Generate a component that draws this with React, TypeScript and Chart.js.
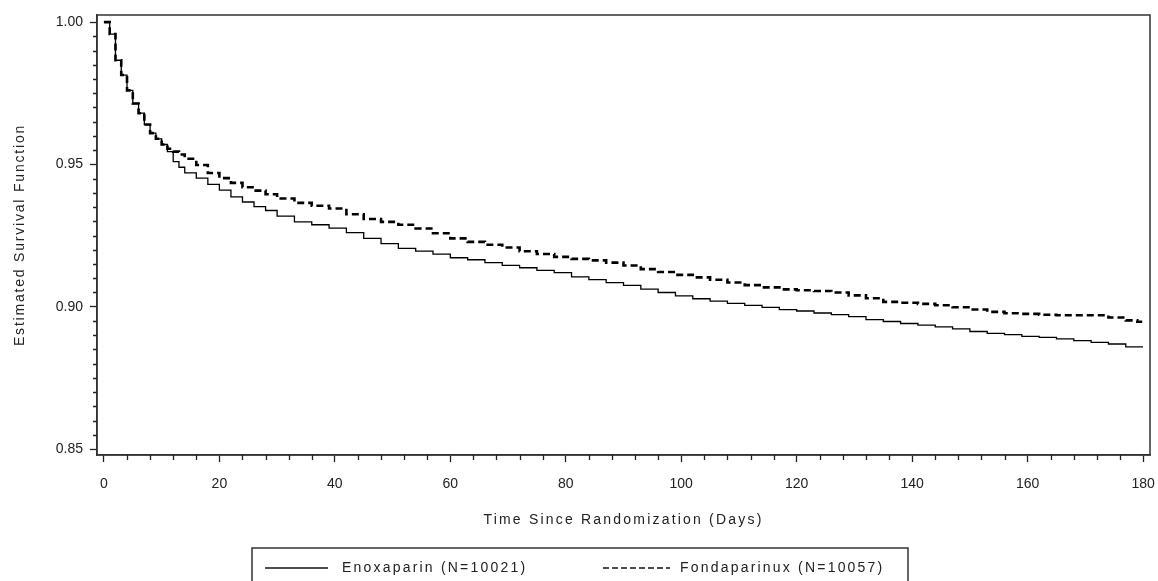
import React, { useEffect, useRef } from "react";
import { Chart, registerables } from "chart.js";

Chart.register(...registerables);

// ---- Data ----
const days = [
  0, 1, 2, 3, 4, 5, 6, 7, 8, 9, 10, 11, 12, 13, 14, 16, 18, 20, 22, 24, 26, 28, 30,
  33, 36, 39, 42, 45, 48, 51, 54, 57, 60, 63, 66, 69, 72, 75, 78, 81, 84, 87, 90,
  93, 96, 99, 102, 105, 108, 111, 114, 117, 120, 123, 126, 129, 132, 135, 138, 141,
  144, 147, 150, 153, 156, 159, 162, 165, 168, 171, 174, 177, 179, 180,
];

const enoxaparin = [
  1.0, 0.9958, 0.9866, 0.9814, 0.976, 0.9714, 0.968, 0.964, 0.961, 0.959, 0.957,
  0.9545, 0.951, 0.949, 0.947, 0.9452, 0.943, 0.941, 0.9386, 0.9368, 0.9352, 0.9338,
  0.9318, 0.9298, 0.9288, 0.9276, 0.926, 0.924, 0.9222, 0.9205, 0.9195, 0.9185,
  0.9172, 0.9165, 0.9155, 0.9145, 0.9137, 0.9128, 0.912, 0.9105, 0.9095, 0.9085,
  0.9075, 0.9062, 0.905, 0.9038, 0.9028, 0.902, 0.9012, 0.9005, 0.8998, 0.899,
  0.8985, 0.8978, 0.8972, 0.8965, 0.8955, 0.8948, 0.8941, 0.8935, 0.8929, 0.8922,
  0.8913, 0.8906, 0.8902, 0.8896, 0.8892, 0.8887, 0.8881, 0.8875, 0.8869, 0.8859,
  0.8859, 0.8859,
];

const fondaparinux = [
  1.0, 0.9958, 0.9866, 0.9814, 0.976, 0.9714, 0.968, 0.964, 0.961, 0.959, 0.957,
  0.9555, 0.9545, 0.9535, 0.952, 0.9498, 0.947, 0.9452, 0.9435, 0.942, 0.9408,
  0.9395, 0.938, 0.9365, 0.9355, 0.9345, 0.9325, 0.9308, 0.9298, 0.9288, 0.9275,
  0.9258, 0.924, 0.9228, 0.9218, 0.9208, 0.9195, 0.9185, 0.9175, 0.9168, 0.9163,
  0.9155, 0.9145, 0.9132, 0.9122, 0.9112, 0.9103, 0.9095, 0.9085, 0.9076, 0.9068,
  0.9061, 0.9058, 0.9055, 0.905, 0.904, 0.903, 0.9017, 0.9014, 0.901, 0.9005,
  0.8998, 0.899, 0.8982, 0.8977, 0.8975, 0.8972, 0.897, 0.897, 0.897, 0.8962,
  0.8952, 0.8947, 0.8947,
];

const seriesLabels = ["Enoxaparin (N=10021)", "Fondaparinux (N=10057)"];
const xTickValues = [0, 20, 40, 60, 80, 100, 120, 140, 160, 180];
const yTickValues = [0.85, 0.9, 0.95, 1.0];
const xTitle = "Time Since Randomization (Days)";
const yTitle = "Estimated Survival Function";

const FONT = "'Liberation Sans', Arial, Helvetica, sans-serif";
const TEXT = "#222";

const spacingFor: Record<string, string> = { x: "2.2px", y: "1.8px" };

const decorPlugin = {
  id: "decor",
  beforeDraw(chart: any) {
    ["x", "y"].forEach((id) => {
      const s: any = chart.scales[id];
      if (s && !s.__ls) {
        const orig = s.drawTitle.bind(s);
        s.drawTitle = () => {
          const c: any = s.ctx;
          const prev = c.letterSpacing;
          c.letterSpacing = spacingFor[id];
          orig();
          c.letterSpacing = prev || "0px";
        };
        s.__ls = true;
      }
    });
  },
  afterDraw(chart: any) {
    const { ctx, chartArea: a, scales } = chart;
    const x = scales.x;
    const y = scales.y;
    ctx.save();
    // frame
    ctx.strokeStyle = "#333";
    ctx.lineWidth = 1.5;
    ctx.strokeRect(a.left, a.top, a.right - a.left, a.bottom - a.top);
    // minor ticks
    ctx.lineWidth = 1.3;
    ctx.strokeStyle = "#222";
    ctx.beginPath();
    for (let v = 0; v <= 180; v += 4) {
      if (v % 20 === 0) continue;
      const px = Math.round(x.getPixelForValue(v)) + 0.5;
      ctx.moveTo(px, a.bottom);
      ctx.lineTo(px, a.bottom + 5);
    }
    for (let k = 0; k <= 30; k++) {
      if (k % 10 === 0) continue;
      const py = Math.round(y.getPixelForValue(0.85 + k * 0.005)) + 0.5;
      ctx.moveTo(a.left - 4, py);
      ctx.lineTo(a.left, py);
    }
    ctx.stroke();

    // legend box
    const ly = 568;
    ctx.strokeStyle = "#333";
    ctx.lineWidth = 1.5;
    ctx.strokeRect(252, 548, 656, 60);
    ctx.font = `14px ${FONT}`;
    (ctx as any).letterSpacing = "2.2px";
    ctx.fillStyle = TEXT;
    ctx.textBaseline = "middle";
    ctx.textAlign = "left";
    // item 1
    ctx.strokeStyle = "#111";
    ctx.lineWidth = 1.3;
    ctx.beginPath();
    ctx.moveTo(265, ly);
    ctx.lineTo(328, ly);
    ctx.stroke();
    ctx.fillText(seriesLabels[0], 342, ly);
    // item 2
    ctx.setLineDash([6, 3]);
    ctx.beginPath();
    ctx.moveTo(603, ly);
    ctx.lineTo(670, ly);
    ctx.stroke();
    ctx.setLineDash([]);
    ctx.fillText(seriesLabels[1], 680, ly);
    (ctx as any).letterSpacing = "0px";
    ctx.restore();
  },
};

export default function App() {
  const ref = useRef<HTMLCanvasElement | null>(null);

  useEffect(() => {
    document.body.style.margin = "0";
    const canvas = ref.current;
    if (!canvas) return;
    Chart.defaults.font.family = FONT;
    Chart.defaults.color = TEXT;

    const chart = new Chart(canvas, {
      type: "line",
      data: {
        datasets: [
          {
            label: seriesLabels[0],
            data: days.map((d, i) => ({ x: d, y: enoxaparin[i] })),
            borderColor: "#000",
            borderWidth: 1.3,
            pointRadius: 0,
            stepped: true,
            fill: false,
          },
          {
            label: seriesLabels[1],
            data: days.map((d, i) => ({ x: d, y: fondaparinux[i] })),
            borderColor: "#000",
            borderWidth: 2.6,
            borderDash: [7, 4],
            pointRadius: 0,
            stepped: true,
            fill: false,
          },
        ],
      },
      options: {
        animation: false,
        responsive: false,
        devicePixelRatio: 1,
        layout: { padding: { left: 0, top: 15, right: 8, bottom: 52 } },
        plugins: {
          legend: { display: false },
          tooltip: { enabled: false },
        },
        scales: {
          x: {
            type: "linear",
            min: -1.2,
            max: 181.2,
            afterBuildTicks: (s: any) => {
              s.ticks = xTickValues.map((v) => ({ value: v }));
            },
            afterFit: (s: any) => {
              s.height = 74;
              s.paddingLeft = 0;
              s.paddingRight = 0;
            },
            ticks: {
              autoSkip: false,
              maxRotation: 0,
              padding: 14,
              color: TEXT,
              font: { size: 14, family: FONT },
              callback: (v: any) => String(v),
            },
            grid: {
              display: true,
              drawOnChartArea: false,
              drawTicks: true,
              tickLength: 7,
              tickColor: "#222",
              tickWidth: 1.3,
            },
            border: { display: true, color: "#333", width: 1.5 },
            title: {
              display: true,
              text: xTitle,
              color: TEXT,
              font: { size: 14, family: FONT },
              padding: { top: 0, bottom: 0 },
            },
          },
          y: {
            type: "linear",
            min: 0.8479,
            max: 1.0025,
            afterBuildTicks: (s: any) => {
              s.ticks = yTickValues.map((v) => ({ value: v }));
            },
            afterFit: (s: any) => {
              s.width = 97;
              s.paddingTop = 0;
              s.paddingBottom = 0;
            },
            ticks: {
              autoSkip: false,
              padding: 7,
              color: TEXT,
              font: { size: 14, family: FONT },
              callback: (v: any) => Number(v).toFixed(2),
            },
            grid: {
              display: true,
              drawOnChartArea: false,
              drawTicks: true,
              tickLength: 7,
              tickColor: "#222",
              tickWidth: 1.3,
            },
            border: { display: true, color: "#333", width: 1.5 },
            title: {
              display: true,
              text: yTitle,
              color: TEXT,
              font: { size: 14, family: FONT },
              padding: { top: 12, bottom: 0 },
            },
          },
        },
      },
      plugins: [decorPlugin],
    });

    return () => chart.destroy();
  }, []);

  return (
    <div style={{ width: 1158, height: 581, position: "relative" }}>
      <canvas ref={ref} width={1158} height={581} style={{ display: "block" }} />
    </div>
  );
}
